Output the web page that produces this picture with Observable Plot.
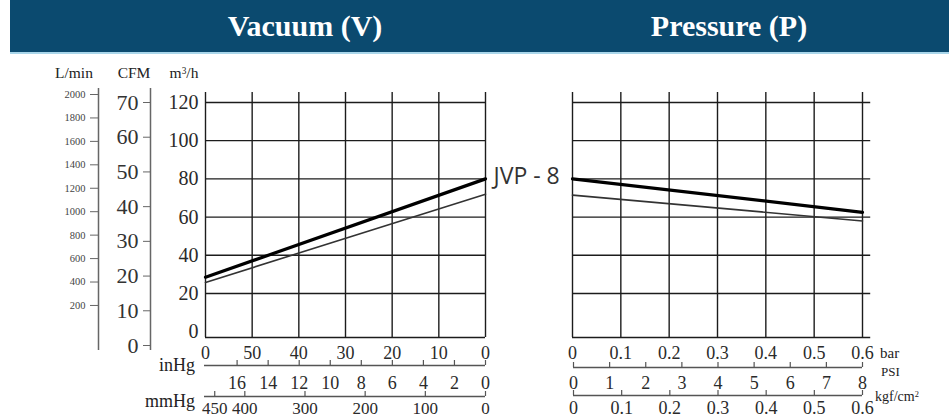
<!DOCTYPE html>
<html><head><meta charset="utf-8">
<script src="https://cdn.jsdelivr.net/npm/d3@7"></script>
<script src="https://cdn.jsdelivr.net/npm/@observablehq/plot@0.6"></script>
<style>
body{margin:0;background:#fff;}
#wrap{position:relative;width:949px;height:419px;overflow:hidden;font-family:"Liberation Serif",serif;background:#fff;}
#wrap svg{position:absolute;left:0;top:0;}
.band{position:absolute;left:10px;top:0;width:939px;height:52px;background:#0b4a6f;}
.bandline{position:absolute;left:10px;top:52px;width:939px;height:2px;background:#a9d6ea;}
.title{position:absolute;top:26px;color:#fff;font-family:"Liberation Serif",serif;font-weight:bold;font-size:30px;transform:translate(-50%,-50%);white-space:nowrap;line-height:1;}
.lab{position:absolute;white-space:nowrap;color:#222;line-height:1;font-family:"Liberation Serif",serif;}
</style></head>
<body>
<div id="wrap">
  <div class="band"></div>
  <div class="bandline"></div>
</div>
<script>
// ---- data ----
const titles = ["Vacuum (V)", "Pressure (P)"];
const kpaTicks = [60, 50, 40, 30, 20, 10, 0];
const kpaLabels = ["0", "50", "40", "30", "20", "10", "0"];
const m3hTicks = [0, 20, 40, 60, 80, 100, 120];
const cfmTicks = [0, 10, 20, 30, 40, 50, 60, 70];
const lminTicks = [200, 400, 600, 800, 1000, 1200, 1400, 1600, 1800, 2000];
const inHgTicks = [16, 14, 12, 10, 8, 6, 4, 2, 0];
const mmHgTicks = [450, 400, 300, 200, 100, 0];
const barTicks = [0, 0.1, 0.2, 0.3, 0.4, 0.5, 0.6];
const psiTicks = [0, 1, 2, 3, 4, 5, 6, 7, 8];
const kgfTicks = [0, 0.1, 0.2, 0.3, 0.4, 0.5, 0.6];
const modelName = "JVP - 8";
const vacuumKpa = [60, 0];
const vacuumThick = [28.5, 80];
const vacuumThin = [25.8, 72];
const pressureBar = [0, 0.6];
const pressureThick = [80, 62.5];
const pressureThin = [71.5, 58];

// ---- layout ----
const W = 949, H = 419;
const wrap = document.getElementById("wrap");
const GRID = "#1c1c1c";
const TXT = "#2a2a2a";
function overlay(opts) {
  const svg = Plot.plot({
    width: W, height: H,
    style: {background: "transparent", overflow: "visible", fontFamily: '"Liberation Serif", serif'},
    ...opts
  });
  wrap.appendChild(svg);
}
function lab(text, x, y, size, anchor = "start", color = "#222") {
  const d = document.createElement("div");
  d.className = "lab";
  d.innerHTML = text;
  d.style.left = x + "px";
  d.style.top = y + "px";
  d.style.fontSize = size + "px";
  d.style.color = color;
  const tx = anchor === "end" ? "-100%" : anchor === "middle" ? "-50%" : "0";
  d.style.transform = `translate(${tx},-50%)`;
  wrap.appendChild(d);
}

// header titles
[[titles[0], 305], [titles[1], 729]].forEach(([t, x]) => {
  const d = document.createElement("div");
  d.className = "title"; d.textContent = t; d.style.left = x + "px";
  wrap.appendChild(d);
});

const vacuumRows = vacuumKpa.map((k, i) => ({kpa: k, thick: vacuumThick[i], thin: vacuumThin[i]}));
const pressureRows = pressureBar.map((b, i) => ({bar: b, thick: pressureThick[i], thin: pressureThin[i]}));

// main vacuum chart
overlay({
  marginLeft: 205, marginRight: W - 485, marginTop: 92, marginBottom: H - 337,
  x: {domain: [60, 0], label: null}, y: {domain: [-3, 125.2], label: null},
  marks: [
    Plot.ruleY([-3, ...m3hTicks.slice(1)], {stroke: GRID, strokeWidth: 1.4}),
    Plot.ruleX(kpaTicks, {stroke: GRID, strokeWidth: 1.4}),
    Plot.line(vacuumRows, {x: "kpa", y: "thin", stroke: "#333", strokeWidth: 1.6}),
    Plot.line(vacuumRows, {x: "kpa", y: "thick", stroke: "#000", strokeWidth: 3.2}),
    Plot.axisY(m3hTicks, {tickSize: 0, tickPadding: 7, fontSize: 20, color: TXT, label: null}),
    Plot.axisX(kpaTicks, {tickSize: 0, tickPadding: 9, fontSize: 18, color: TXT, label: null,
      tickFormat: d => kpaLabels[kpaTicks.indexOf(d)]}),
    Plot.text(vacuumRows.filter(d => d.kpa === 0), {x: "kpa", y: "thick", text: () => modelName,
      dx: 8, dy: -2, textAnchor: "start", fontSize: 23, fontFamily: "Open Sans", fill: "#333"})
  ]
});

// main pressure chart
overlay({
  marginLeft: 572, marginRight: W - 862, marginTop: 92, marginBottom: H - 337,
  x: {domain: [0, 0.6], label: null}, y: {domain: [-3, 125.2], label: null, axis: null},
  marks: [
    Plot.ruleY([-3, ...m3hTicks.slice(1)], {x1: 0, x2: 0.617, stroke: GRID, strokeWidth: 1.4}),
    Plot.ruleX(barTicks, {stroke: GRID, strokeWidth: 1.4}),
    Plot.line(pressureRows, {x: "bar", y: "thin", stroke: "#333", strokeWidth: 1.6}),
    Plot.line(pressureRows, {x: "bar", y: "thick", stroke: "#000", strokeWidth: 3.2}),
    Plot.axisX(barTicks, {tickSize: 0, tickPadding: 9, fontSize: 18, color: TXT, label: null,
      tickFormat: d => String(d)})
  ]
});

// CFM axis
overlay({
  marginLeft: 150, marginRight: W - 151, marginTop: 102, marginBottom: H - 345,
  x: {domain: [0, 1], axis: null}, y: {domain: [0, 70], label: null},
  marks: [
    Plot.ruleX([0], {y1: -1.45, y2: 74, stroke: "#666", strokeWidth: 1.5}),
    Plot.axisY(cfmTicks, {anchor: "left", tickSize: 7, tickPadding: 5, fontSize: 22, color: "#333", stroke: "#666", label: null})
  ]
});

// L/min axis
overlay({
  marginLeft: 98, marginRight: W - 99, marginTop: 94, marginBottom: H - 328.4,
  x: {domain: [0, 1], axis: null}, y: {domain: [0, 2000], label: null},
  marks: [
    Plot.ruleX([0], {y1: -184, y2: 2051, stroke: "#666", strokeWidth: 1.5}),
    Plot.axisY(lminTicks, {anchor: "left", tickSize: 8, tickPadding: 5, fontSize: 10.5, color: "#444", stroke: "#666", label: null,
      tickFormat: d => String(d)})
  ]
});

// bottom strip scales
function strip(left, right, lineY, domain, ticks, pad, fontSize) {
  overlay({
    marginLeft: left, marginRight: W - right, marginTop: lineY - 5, marginBottom: H - lineY,
    x: {domain, label: null}, y: {domain: [0, 1], axis: null},
    marks: [
      Plot.ruleY([0], {stroke: "#555", strokeWidth: 1.3}),
      Plot.ruleX(ticks, {y1: 0, y2: 1, stroke: "#555", strokeWidth: 1.2}),
      Plot.axisX(ticks, {anchor: "bottom", tickSize: 0, tickPadding: pad, fontSize, color: TXT, label: null,
        tickFormat: d => String(d)})
    ]
  });
}
strip(204, 485, 365, [18.1, 0], inHgTicks, 11, 18);
strip(204, 485, 396, [467, 0], mmHgTicks, 5, 17);
strip(573, 862, 367, [0, 8], psiTicks, 9, 18);
strip(573, 862, 395, [0, 0.6], kgfTicks, 6, 18);

// unit labels
lab("L/min", 55, 73, 15.5);
lab("CFM", 134, 73, 15.5, "middle");
lab("m<sup style='font-size:60%;vertical-align:45%'>3</sup>/h", 184, 73, 15.5, "middle");
lab("inHg", 195, 365, 18, "end");
lab("mmHg", 195, 401, 18, "end");
lab("bar", 880, 353, 15);
lab("PSI", 881, 371, 13);
lab("kgf/cm<sup style='font-size:60%;vertical-align:45%'>2</sup>", 875, 397, 14);
</script>
</body></html>
